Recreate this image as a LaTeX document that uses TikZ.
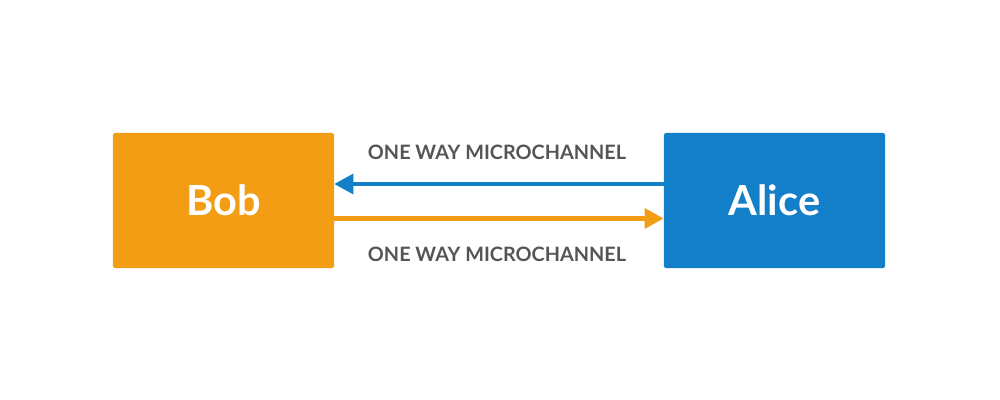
\documentclass[tikz,border=0pt]{standalone}
\usepackage{fontspec}
\setmainfont{Lato}
\usetikzlibrary{arrows.meta,positioning,calc}
\definecolor{boborange}{RGB}{243,157,20}
\definecolor{aliceblue}{RGB}{19,127,201}
\definecolor{labelgray}{RGB}{85,85,85}

\begin{document}
\begin{tikzpicture}
[x=0.025cm, y=-0.025cm, >={Triangle[length=13.5pt,width=14pt]},
party/.style={rectangle, rounded corners=1.5pt, inner sep=0pt, minimum width=5.525cm, minimum height=3.375cm, text=white, font=\fontsize{29.5}{32}\selectfont\bfseries},
channel/.style={line width=2.85pt},
chanlabel/.style={text=labelgray, font=\fontsize{14.1}{16}\selectfont\bfseries}]

\useasboundingbox (0,0) rectangle (1000,400);

\node[party, fill=boborange] (bob) at (223.5,200.5) {Bob};
\node[party, fill=aliceblue] (alice) at (774.5,200.5) {Alice};

\draw[channel, ->, draw=aliceblue, fill=aliceblue] ($(alice.west)+(0,-16.5)$) -- ($(bob.east)+(0,-16.5)$);
\draw[channel, ->, draw=boborange, fill=boborange] ($(bob.east)+(0,18)$) -- ($(alice.west)+(0,18)$);

\node[chanlabel] (toplabel) at (497,152) {ONE WAY MICROCHANNEL};
\node[chanlabel] (bottomlabel) at (497,254) {ONE WAY MICROCHANNEL};
\end{tikzpicture}
\end{document}
